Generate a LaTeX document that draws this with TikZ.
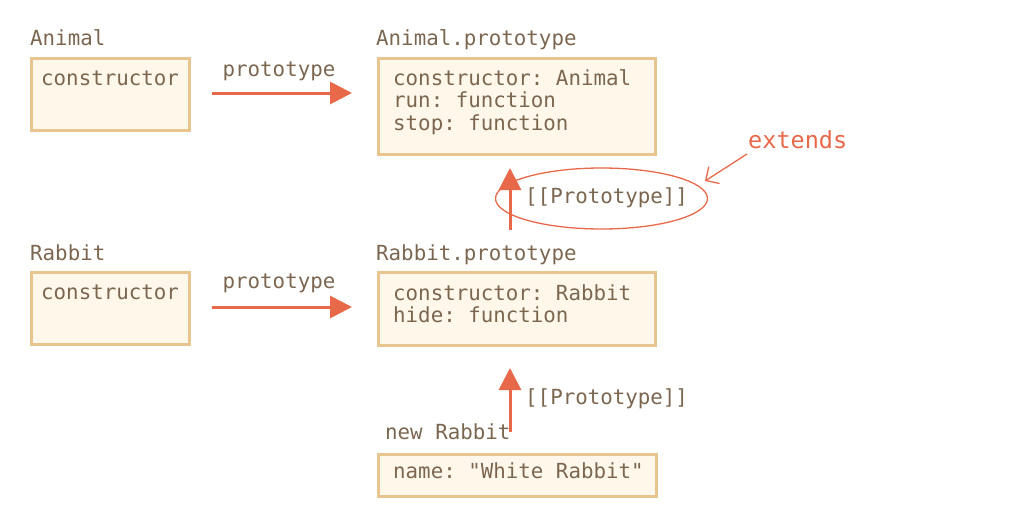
\documentclass[tikz,border=0pt]{standalone}
\usepackage{fontspec}
\setmonofont{DejaVu Sans Mono}
\usetikzlibrary{arrows.meta,shapes.geometric}
\definecolor{boxfill}{HTML}{FFF8EA}
\definecolor{boxline}{HTML}{E8C48E}
\definecolor{txt}{HTML}{7B6650}
\definecolor{arr}{HTML}{E8694A}
\begin{document}
\begin{tikzpicture}[x=1pt,y=-1pt,
  box/.style={draw=boxline,fill=boxfill,line width=3pt,inner sep=0pt,anchor=north west},
  lbl/.style={anchor=base west,inner sep=0pt,text=txt,font=\ttfamily\fontsize{20.8}{22.5}\selectfont},
  thick arrow/.style={draw=arr,line width=3pt,-{Triangle[length=22pt,width=22pt]}},
  thin arrow/.style={draw=arr,line width=1.3pt,-{Straight Barb[length=10pt,width=20pt,line width=1.3pt]}}]
\useasboundingbox (0,0) rectangle (1019,527);
% Animal row
\node[lbl] (animal) at (30,46) {Animal};
\node[box,minimum width=158,minimum height=72] (box1) at (30,57) {};
\node[lbl] (c1) at (41,85) {constructor};
\node[lbl] (animalp) at (376,46) {Animal.prototype};
\node[box,minimum width=277,minimum height=96] (box2) at (377,57) {};
\node[lbl] (l21) at (393,85) {constructor: Animal};
\node[lbl] (l22) at (393,107.5) {run: function};
\node[lbl] (l23) at (393,130) {stop: function};
\coordinate (a1s) at (212,93);
\coordinate (a1e) at (352,93);
\draw[thick arrow] (a1s) -- (a1e);
\node[lbl,anchor=base] (p1) at (279,77) {prototype};
% Rabbit row
\node[lbl] (rabbit) at (30,260) {Rabbit};
\node[box,minimum width=158,minimum height=72] (box3) at (30,271) {};
\node[lbl] (c3) at (41,299) {constructor};
\node[lbl] (rabbitp) at (376,260) {Rabbit.prototype};
\node[box,minimum width=277,minimum height=73] (box4) at (377,271) {};
\node[lbl] (l41) at (393,300) {constructor: Rabbit};
\node[lbl] (l42) at (393,322.5) {hide: function};
\coordinate (a2s) at (212,307);
\coordinate (a2e) at (352,307);
\draw[thick arrow] (a2s) -- (a2e);
\node[lbl,anchor=base] (p2) at (279,288) {prototype};
% upper [[Prototype]]
\node[draw=arr,line width=1.3pt,ellipse,minimum width=212,minimum height=61,inner sep=0pt] (ell) at (601.5,198.5) {};
\coordinate (v1s) at (510,230);
\coordinate (v1e) at (510,168);
\draw[thick arrow] (v1s) -- (v1e);
\node[lbl] (pp1) at (525,203) {[[Prototype]]};
\node[lbl,text=arr,font=\ttfamily\fontsize{23.5}{25}\selectfont] (ext) at (748,148) {extends};
\coordinate (e1s) at (747,154);
\coordinate (e1e) at (705,181);
\draw[thin arrow] (e1s) -- (e1e);
% new Rabbit
\node[lbl] (newr) at (385,439) {new Rabbit};
\node[box,minimum width=278,minimum height=42] (box5) at (377,452.5) {};
\node[lbl] (l51) at (393,478) {name: "White Rabbit"};
\coordinate (v2s) at (510,432);
\coordinate (v2e) at (510,368);
\draw[thick arrow] (v2s) -- (v2e);
\node[lbl] (pp2) at (525,404) {[[Prototype]]};
\end{tikzpicture}
\end{document}
